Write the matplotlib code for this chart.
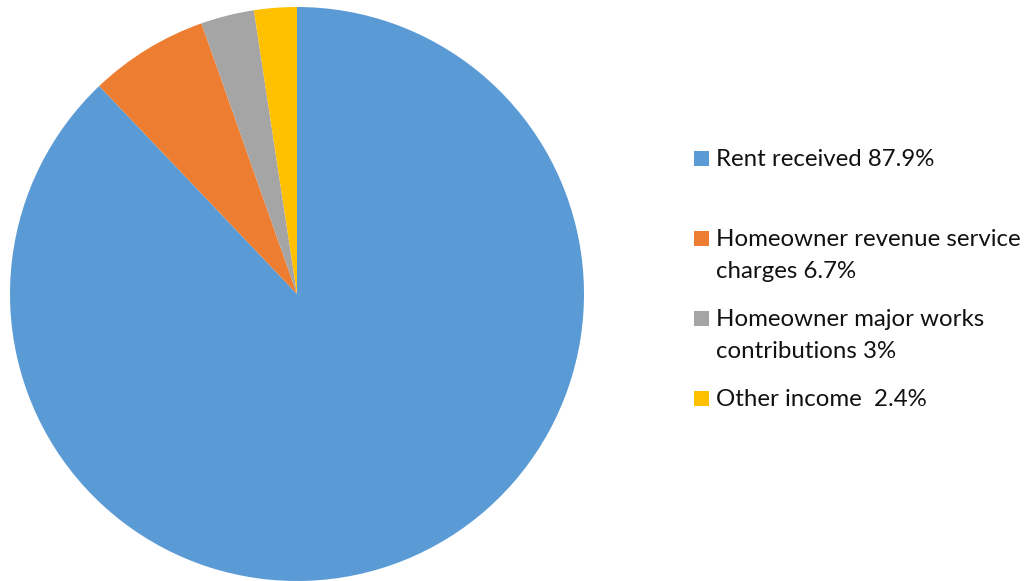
import matplotlib
matplotlib.use("Agg")
import matplotlib.pyplot as plt
from matplotlib.patches import Rectangle

labels = ["Rent received 87.9%", "Homeowner revenue service\ncharges 6.7%",
          "Homeowner major works\ncontributions 3%", "Other income  2.4%"]
values = [87.9, 6.7, 3.0, 2.4]
colors = ["#5B9BD5", "#ED7D31", "#A5A5A5", "#FFC000"]

W, H = 1031, 581
fig = plt.figure(figsize=(W / 100, H / 100), dpi=100)
ax = fig.add_axes([10 / W, 0 / H, 574 / W, 574 / H])
ax.pie(values, colors=colors, startangle=90, counterclock=False,
       wedgeprops=dict(linewidth=0))
ax.set_xlim(-1, 1)
ax.set_ylim(-1, 1)
ax.set_aspect("equal")
ax.axis("off")

# legend, hand placed (pixel coords from top-left)
marker_x = 694
text_x = 716
ys = [159, 239, 319, 399]
for lab, col, y in zip(labels, colors, ys):
    fig.patches.append(Rectangle((marker_x / W, 1 - (y + 7) / H), 15 / W, 15 / H,
                                 transform=fig.transFigure, facecolor=col, edgecolor="none"))
    fig.text(text_x / W, 1 - (y - 10) / H, lab, family="Lato", fontsize=17.3,
             color="#111111", va="top", ha="left", linespacing=1.62)

fig.savefig("out.png", dpi=100)
